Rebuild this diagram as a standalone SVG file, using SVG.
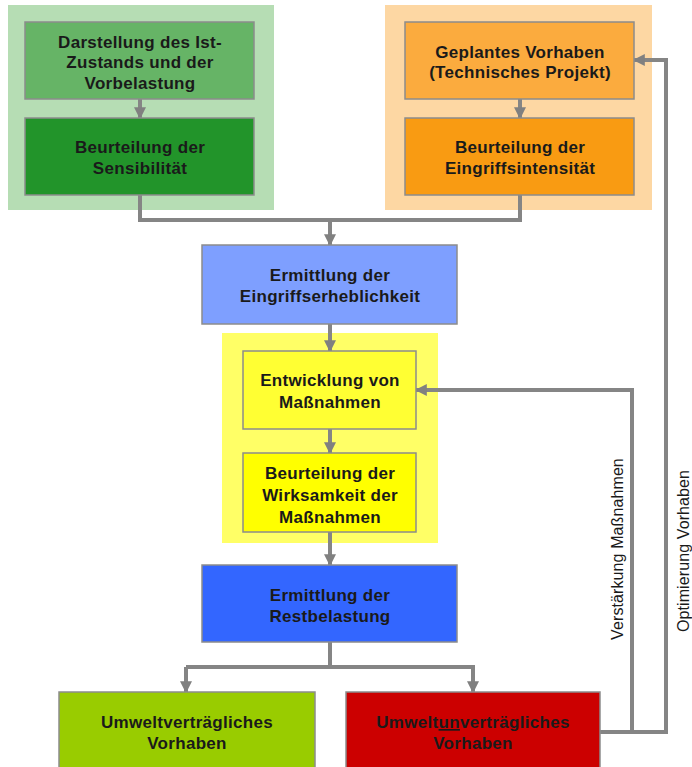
<svg xmlns="http://www.w3.org/2000/svg" width="692" height="767" viewBox="0 0 692 767">
<defs>
<marker id="ah" viewBox="0 0 10 10" refX="9" refY="5" markerWidth="3" markerHeight="3" orient="auto" markerUnits="strokeWidth">
<path d="M0,0 L10,5 L0,10 z" fill="#808080"/>
</marker>
<style>
.box{stroke:#8c8c8c;stroke-width:1.5}
.t{font-family:"Liberation Sans",Arial,sans-serif;font-size:17px;letter-spacing:0.3px;font-weight:bold;fill:#1a1a1a;text-anchor:middle}
.lab{font-family:"Liberation Sans",Arial,sans-serif;font-size:16px;letter-spacing:0.1px;fill:#1a1a1a;text-anchor:middle}
.c{fill:none;stroke:#858585;stroke-width:4}
.ca{fill:none;stroke:#858585;stroke-width:4;marker-end:url(#ah)}
</style>
</defs>
<rect width="692" height="767" fill="#ffffff"/>
<g id="bg-green"><rect x="8" y="5" width="266" height="205" fill="#b6ddb4"/></g>
<g id="bg-orange"><rect x="385" y="5" width="267" height="205" fill="#fdd7a3"/></g>
<g id="bg-yellow"><rect x="222" y="333" width="216" height="210" fill="#ffff66"/></g>

<g id="connectors">
<path class="ca" d="M140,99 V118"/>
<path class="ca" d="M520,99 V118"/>
<path class="c" d="M140,195 V220 H520 V195"/>
<path class="ca" d="M330,220 V245"/>
<path class="ca" d="M330,324 V351"/>
<path class="ca" d="M330,429 V453"/>
<path class="ca" d="M330,532 V565"/>
<path class="c" d="M330,642 V667"/>
<path class="ca" d="M186,667 H473 V692"/>
<path class="ca" d="M186,667 V692"/>
<path class="ca" d="M600,732 H666 V60 H634"/>
<path class="ca" d="M632,732 V390 H416"/>
</g>

<g id="n1"><rect class="box" x="25" y="22" width="229" height="77" fill="#66b466"/>
<text class="t" x="140" y="48">Darstellung des Ist-</text>
<text class="t" x="140" y="68">Zustands und der</text>
<text class="t" x="140" y="89">Vorbelastung</text></g>

<g id="n2"><rect class="box" x="25" y="118" width="229" height="77" fill="#22942a"/>
<text class="t" x="140" y="153">Beurteilung der</text>
<text class="t" x="140" y="174">Sensibilität</text></g>

<g id="n3"><rect class="box" x="405" y="22" width="229" height="77" fill="#fbab3e"/>
<text class="t" x="520" y="58">Geplantes Vorhaben</text>
<text class="t" x="520" y="78">(Technisches Projekt)</text></g>

<g id="n4"><rect class="box" x="405" y="118" width="229" height="77" fill="#f99b12"/>
<text class="t" x="520" y="153">Beurteilung der</text>
<text class="t" x="520" y="174">Eingriffsintensität</text></g>

<g id="n5"><rect class="box" x="202" y="245" width="255" height="79" fill="#7e9fff"/>
<text class="t" x="330" y="281">Ermittlung der</text>
<text class="t" x="330" y="302">Eingriffserheblichkeit</text></g>

<g id="n6"><rect class="box" x="243" y="351" width="173" height="78" fill="#ffff33"/>
<text class="t" x="330" y="386">Entwicklung von</text>
<text class="t" x="330" y="408">Maßnahmen</text></g>

<g id="n7"><rect class="box" x="243" y="453" width="173" height="79" fill="#ffff00"/>
<text class="t" x="330" y="479">Beurteilung der</text>
<text class="t" x="330" y="501">Wirksamkeit der</text>
<text class="t" x="330" y="523">Maßnahmen</text></g>

<g id="n8"><rect class="box" x="202" y="565" width="255" height="77" fill="#3366ff"/>
<text class="t" x="330" y="601">Ermittlung der</text>
<text class="t" x="330" y="622">Restbelastung</text></g>

<g id="n9"><rect class="box" x="59" y="692" width="256" height="80" fill="#99cc00"/>
<text class="t" x="187" y="728">Umweltverträgliches</text>
<text class="t" x="187" y="749">Vorhaben</text></g>

<g id="n10"><rect class="box" x="346" y="692" width="254" height="80" fill="#cc0000"/>
<text class="t" x="473" y="728">Umwelt<tspan text-decoration="underline">un</tspan>verträgliches</text>
<text class="t" x="473" y="749">Vorhaben</text></g>

<g id="labels">
<text class="lab" transform="translate(623,549) rotate(-90)">Verstärkung Maßnahmen</text>
<text class="lab" transform="translate(689,551) rotate(-90)">Optimierung Vorhaben</text>
</g>
</svg>
